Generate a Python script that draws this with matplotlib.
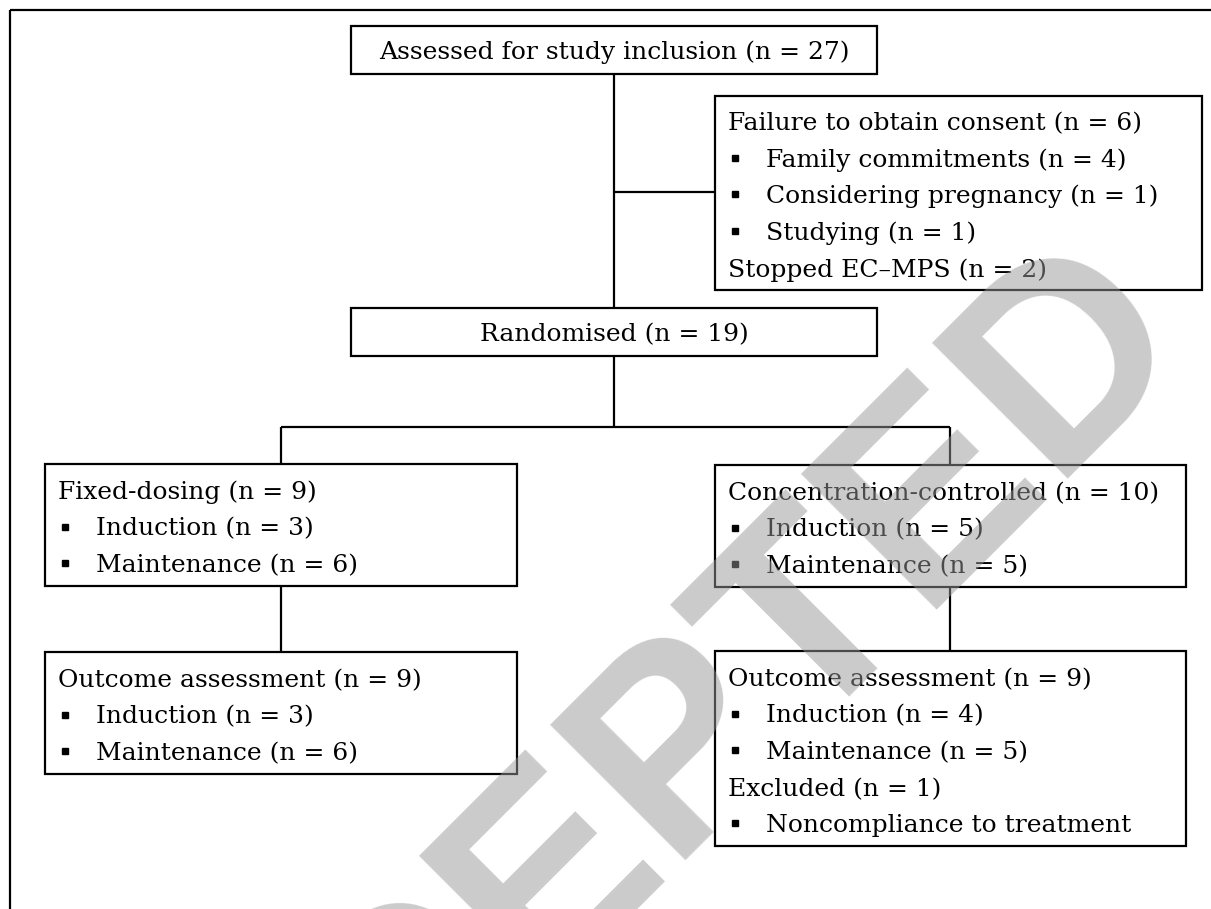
import matplotlib.pyplot as plt
from matplotlib.patches import Rectangle

# flow chart content
top_box = "Assessed for study inclusion (n = 27)"
rand_box = "Randomised (n = 19)"
excluded_lines = [
    ("Failure to obtain consent (n = 6)", False),
    ("Family commitments (n = 4)", True),
    ("Considering pregnancy (n = 1)", True),
    ("Studying (n = 1)", True),
    ("Stopped EC\u2013MPS (n = 2)", False),
]
fixed_lines = [
    ("Fixed-dosing (n = 9)", False),
    ("Induction (n = 3)", True),
    ("Maintenance (n = 6)", True),
]
conc_lines = [
    ("Concentration-controlled (n = 10)", False),
    ("Induction (n = 5)", True),
    ("Maintenance (n = 5)", True),
]
fixed_outcome = [
    ("Outcome assessment (n = 9)", False),
    ("Induction (n = 3)", True),
    ("Maintenance (n = 6)", True),
]
conc_outcome = [
    ("Outcome assessment (n = 9)", False),
    ("Induction (n = 4)", True),
    ("Maintenance (n = 5)", True),
    ("Excluded (n = 1)", False),
    ("Noncompliance to treatment", True),
]
watermark = "ACCEPTED"

W, H = 1211, 909
fig = plt.figure(figsize=(W / 100, H / 100), dpi=100)
ax = fig.add_axes([0, 0, 1, 1])
ax.set_xlim(0, W)
ax.set_ylim(H, 0)
ax.axis('off')

FONT = 'DejaVu Serif'
FS = 18
LW = 1.6
STEP = 36.6


def box(x0, y0, x1, y1):
    ax.add_patch(Rectangle((x0, y0), x1 - x0, y1 - y0, fill=False,
                           edgecolor='black', lw=LW, zorder=2))


def line(xs, ys):
    ax.plot(xs, ys, color='black', lw=LW, zorder=2, solid_capstyle='butt')


def list_box(x0, y0, x1, y1, lines, y_first):
    box(x0, y0, x1, y1)
    for i, (txt, bullet) in enumerate(lines):
        y = y_first + i * STEP
        if bullet:
            ax.plot(x0 + 20, y, marker='s', ms=5, color='black', zorder=3)
            ax.text(x0 + 51, y, txt, fontsize=FS, family=FONT, va='center_baseline', zorder=3)
        else:
            ax.text(x0 + 13, y, txt, fontsize=FS, family=FONT, va='center_baseline', zorder=3)


# outer frame (open at right and bottom)
line([10, W], [10, 10])
line([10, 10], [10, H])

# top boxes
box(351, 26, 877, 74)
ax.text(614, 50, top_box, fontsize=FS, family=FONT, ha='center', va='center_baseline', zorder=3)
box(351, 308, 877, 356)
ax.text(614, 332, rand_box, fontsize=FS, family=FONT, ha='center', va='center_baseline', zorder=3)

line([614, 614], [74, 308])
line([614, 715], [192, 192])
list_box(715, 96, 1202, 290, excluded_lines, 121)

# branches
line([614, 614], [356, 427])
line([281, 950], [427, 427])
line([281, 281], [427, 464])
line([950, 950], [427, 465])

list_box(45, 464, 517, 586, fixed_lines, 490)
list_box(715, 465, 1186, 587, conc_lines, 491)
line([281, 281], [586, 652])
line([950, 950], [587, 651])
list_box(45, 652, 517, 774, fixed_outcome, 678)
list_box(715, 651, 1186, 846, conc_outcome, 677)

# watermark over the chart
ax.text(655, 885, watermark, fontsize=200, family='Liberation Sans', weight='bold',
        color='#989898', alpha=0.5, rotation=45, ha='center', va='baseline',
        rotation_mode='anchor', zorder=10)

fig.savefig('out.png', dpi=100)
